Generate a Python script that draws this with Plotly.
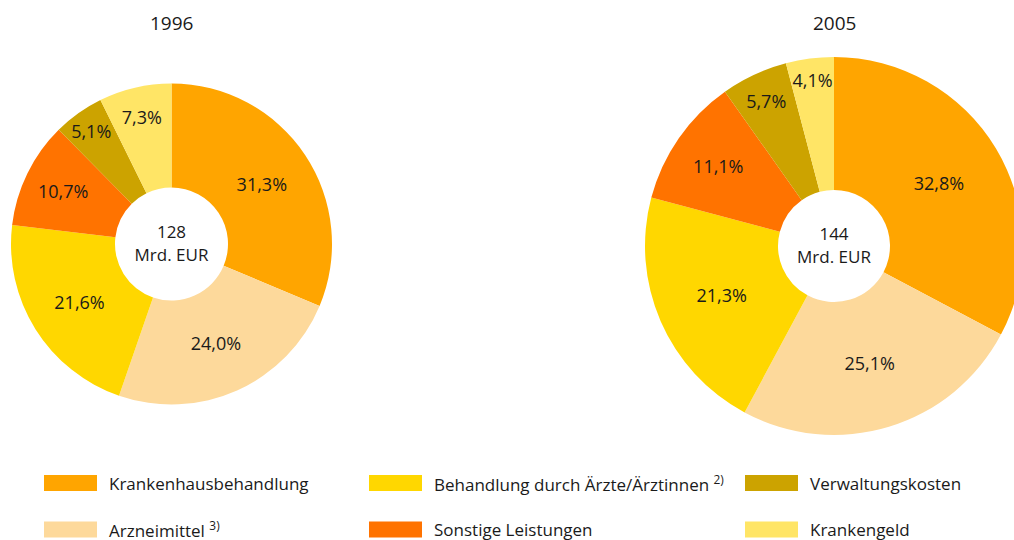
import plotly.graph_objects as go

# body margin is removed in the page (see post_script), so figure pixels = window pixels
W, H = 1024, 540

categories = ["Krankenhausbehandlung", "Arzneimittel", "Behandlung durch Ärzte/Ärztinnen",
              "Sonstige Leistungen", "Verwaltungskosten", "Krankengeld"]
legend_labels = ["Krankenhausbehandlung", "Arzneimittel <sup>3)</sup>",
                 "Behandlung durch Ärzte/Ärztinnen <sup>2)</sup>", "Sonstige Leistungen",
                 "Verwaltungskosten", "Krankengeld"]
values_1996 = [31.3, 24.0, 21.6, 10.7, 5.1, 7.3]
values_2005 = [32.8, 25.1, 21.3, 11.1, 5.7, 4.1]
years = ["1996", "2005"]
totals = ["128", "144"]

colors = ["#FFA500", "#FDD99B", "#FFD700", "#FF7300", "#CCA300", "#FFE566"]
FONT = "Open Sans"
TXT = "#1a1a1a"

# pie geometry in window pixels: center x, center y, outer radius, hole radius
geom = [(171.5, 244, 160.5, 56.5), (834, 246, 189, 56)]


def px(X):
    return X / W


def py(Y):
    return 1 - Y / H


fig = go.Figure()
for vals, year, total, (cx, cy, R, hr) in zip([values_1996, values_2005], years, totals, geom):
    fig.add_trace(go.Pie(
        labels=categories, values=vals,
        text=[f"{v:.1f}%".replace(".", ",") for v in vals],
        textinfo="text", textposition="inside", insidetextorientation="horizontal",
        textfont=dict(family=FONT, size=18, color=TXT),
        marker=dict(colors=colors, line=dict(width=0)),
        sort=False, direction="clockwise", rotation=0,
        hole=hr / R, showlegend=False, hoverinfo="label+percent",
        domain=dict(x=[px(cx - R), px(cx + R)], y=[py(cy + R), py(cy - R)]),
        title=dict(text=f"{total}<br>Mrd. EUR", position="middle center",
                   font=dict(family=FONT, size=17, color=TXT)),
    ))
    fig.add_annotation(text=year, x=px(cx), y=py(23), xref="paper", yref="paper",
                       showarrow=False, xanchor="center", yanchor="middle",
                       font=dict(family=FONT, size=19, color=TXT))

# manual legend: 3 columns x 2 rows
col_x = [44, 369, 745]
row_y = [483, 529.5]
order = [0, 2, 4, 1, 3, 5]
for k, idx in enumerate(order):
    r, c = divmod(k, 3)
    x0 = col_x[c]
    y = row_y[r]
    fig.add_shape(type="rect", xref="paper", yref="paper",
                  x0=px(x0), x1=px(x0 + 53), y0=py(y + 8), y1=py(y - 8),
                  fillcolor=colors[idx], line=dict(width=0))
    fig.add_annotation(text=legend_labels[idx], x=px(x0 + 63), y=py(y),
                       xref="paper", yref="paper", showarrow=False,
                       xanchor="left", yanchor="middle",
                       font=dict(family=FONT, size=17, color=TXT))

fig.update_layout(width=W, height=H, margin=dict(l=0, r=0, t=0, b=0),
                  paper_bgcolor="white", plot_bgcolor="white",
                  uniformtext=dict(minsize=18, mode="show"),
                  font=dict(family=FONT, color=TXT))
fig.write_html(
    "out.html",
    config={"displayModeBar": False},
    post_script="document.body.style.margin='0';document.body.style.overflow='hidden';",
)
